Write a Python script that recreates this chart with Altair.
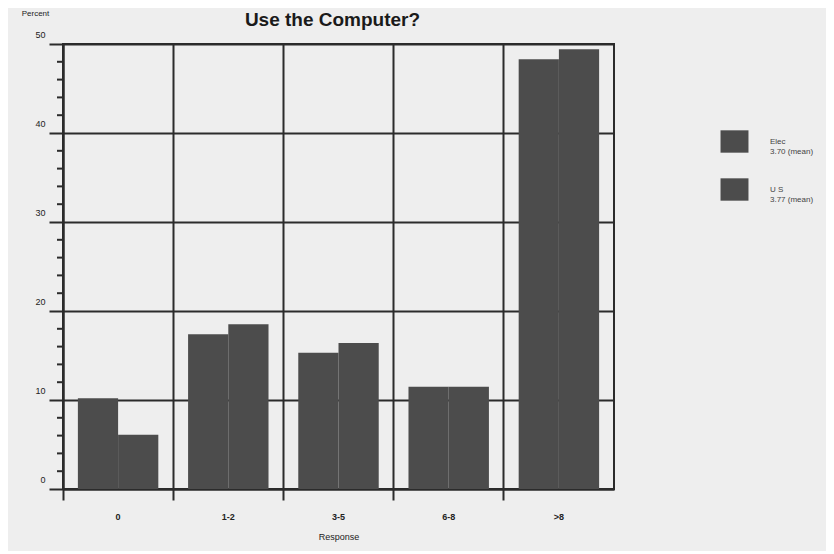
import altair as alt
import pandas as pd

categories = ["0", "1-2", "3-5", "6-8", ">8"]
elec = [10.2, 17.4, 15.3, 11.5, 48.3]
us = [6.1, 18.5, 16.4, 11.5, 49.4]
series = ["Elec", "U S"]
minor_ticks = [v for v in range(2, 50, 2) if v % 10 != 0]

rows = []
for c, e, u in zip(categories, elec, us):
    rows.append({"Response": c, "series": "Elec", "value": e})
    rows.append({"Response": c, "series": "U S", "value": u})
df = pd.DataFrame(rows)
minor_df = pd.DataFrame({"v": minor_ticks})

FONT = "Liberation Sans"
INK = "#2b2b2b"
BAR = "#4c4c4c"
W, H = 551, 445

yscale = alt.Scale(domain=[0, 50], nice=False)

bars = alt.Chart(df).mark_bar(color=BAR, stroke=None).encode(
    x=alt.X("Response:N", sort=categories,
            scale=alt.Scale(paddingInner=0, paddingOuter=0),
            axis=alt.Axis(title="Response", bandPosition=0,
                          labelAngle=0, grid=True, gridColor=INK, gridWidth=2,
                          gridOpacity=1, tickColor=INK, tickWidth=2, tickSize=11,
                          domainColor=INK, domainWidth=2, labelPadding=12,
                          labelFont=FONT, labelFontSize=9, labelColor="#222",
                          labelFontWeight="bold",
                          titleFont=FONT, titleFontSize=9, titleFontWeight="normal",
                          titleColor="#222", titlePadding=11)),
    xOffset=alt.XOffset("series:N", sort=series,
                        scale=alt.Scale(paddingInner=0, paddingOuter=0.37)),
    y=alt.Y("value:Q", scale=yscale,
            axis=alt.Axis(title="Percent", values=[0, 10, 20, 30, 40, 50],
                          grid=True, gridColor=INK, gridWidth=2, gridOpacity=1,
                          tickColor=INK, tickWidth=2, tickSize=14,
                          domainColor=INK, domainWidth=2, labelPadding=4,
                          labelOffset=-10, labelFont=FONT, labelFontSize=9,
                          labelColor="#222",
                          titleAngle=0, titleX=-28, titleY=-27, titleAlign="center",
                          titleFont=FONT, titleFontSize=8, titleFontWeight="normal",
                          titleColor="#222")),
    color=alt.Color("series:N", sort=series,
                    scale=alt.Scale(domain=series, range=[BAR, BAR]),
                    legend=alt.Legend(
                        title=None, orient="none", legendX=660, legendY=86,
                        symbolType="M-1.25,-1H1.25V1H-1.25Z", symbolSize=500,
                        symbolStrokeWidth=0, symbolOpacity=1,
                        labelExpr="datum.label == 'Elec' ? ['Elec', '3.70 (mean)'] : ['U S', '3.77 (mean)']",
                        labelFont=FONT, labelFontSize=8, labelColor="#444",
                        labelOffset=24, rowPadding=22, labelLimit=200)),
)

minor = alt.Chart(minor_df).mark_rule(color=INK, strokeWidth=2).encode(
    y=alt.Y("v:Q", scale=yscale),
    x=alt.value(-6),
    x2=alt.value(0),
)

chart = alt.layer(bars, minor).properties(
    width=W, height=H,
    title=alt.TitleParams("Use the Computer?", font=FONT, fontSize=19,
                          fontWeight="bold", color="#1a1a1a", anchor="middle",
                          offset=10, dx=-6, dy=31),
    autosize=alt.AutoSizeParams(type="none"),
    padding={"left": 55, "top": 36, "right": 212, "bottom": 62},
    background="#eeeeee",
).configure_view(stroke=INK, strokeWidth=2, fill="#eeeeee")

chart.save("out.html", embed_options={"renderer": "svg", "actions": False})
